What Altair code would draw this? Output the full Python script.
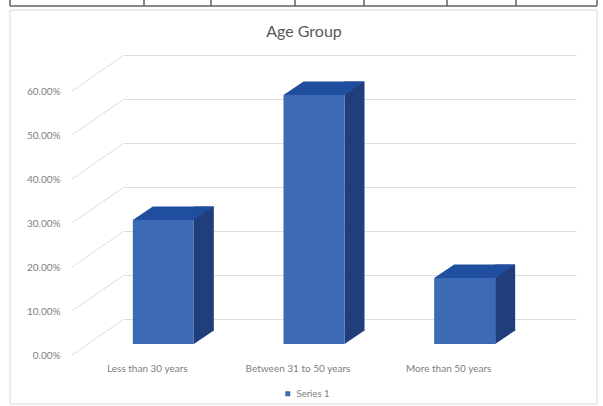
import altair as alt
import pandas as pd

# ---- data ----
categories = ["Less than 30 years", "Between 31 to 50 years", "More than 50 years"]
shares = [0.282, 0.566, 0.150]
series_names = ["Series 1", "Series 1", "Series 1"]
y_ticks = [0.0, 0.1, 0.2, 0.3, 0.4, 0.5, 0.6]

bars = pd.DataFrame({"group": categories, "share": shares, "series": series_names})
ticks = pd.DataFrame({"tick": y_ticks})

# ---- style ----
FRONT, TOP, SIDE = "#3D6AB5", "#1F4E9E", "#203F7A"
GRID, TEXT, TITLE = "#DDDDDD", "#808080", "#595959"
FONT = "Lato"
W, H = 452, 264
DX, DY = 52, 36          # depth of the 3D box (front plane -> back wall)
BX, BY = -36, 25         # bar front face offset from the back wall
BW = 61                  # bar width
SX, SY = 20, 13.5        # bar depth

y_scale = alt.Scale(domain=[0, 0.6], nice=False, zero=True)
x_scale = alt.Scale(paddingInner=0, paddingOuter=0)
x_axis = alt.Axis(labelAngle=0, labelOffset=-DX, labelPadding=44, ticks=False,
                  domain=False, labelFontSize=10, labelColor=TEXT, labelFont=FONT, title=None)
y_axis = alt.Axis(values=y_ticks, format=".2%", labelOffset=DY, labelPadding=64,
                  ticks=False, domain=False, grid=True, gridColor=GRID, gridWidth=1,
                  labelFontSize=10, labelColor=TEXT, labelFont=FONT, title=None)

x_enc = alt.X("group:N", sort=categories, title=None, scale=x_scale, axis=x_axis)

deco = alt.Chart(alt.InlineData(values=[{}]))
frame = deco.mark_rect(fillOpacity=0, stroke="#D9D9D9", strokeWidth=1).encode(
    x=alt.value(-114), x2=alt.value(473), y=alt.value(-45), y2=alt.value(349))
table_lines = [deco.mark_rule(color="#606060", strokeWidth=1.5).encode(
    x=alt.value(-114), x2=alt.value(473), y=alt.value(-49), y2=alt.value(-49))]
for xv in [10, 144, 211, 295, 364, 447, 516, 597]:
    table_lines.append(deco.mark_rule(color="#606060", strokeWidth=1.5).encode(
        x=alt.value(xv - 124), x2=alt.value(xv - 124), y=alt.value(-56), y2=alt.value(-49)))

diag = alt.Chart(ticks).mark_rule(color=GRID, strokeWidth=1, yOffset=DY, y2Offset=0).encode(
    x=alt.value(-DX), x2=alt.value(0),
    y=alt.Y("tick:Q", scale=y_scale, axis=y_axis, title=None), y2="tick:Q")

base = alt.Chart(bars)
y_share = alt.Y("share:Q", scale=y_scale, axis=y_axis, title=None)

side = base.mark_bar(width=SX, color=SIDE, xOffset=BX + BW / 2 + SX / 2,
                     yOffset=BY - SY, y2Offset=BY - SY).encode(
    x=x_enc, y=y_share, y2=alt.datum(0))

tri_path = (f"M {BW/2} {-SY - 1} L {BW/2 + SX} {-SY - 1} L {BW/2 + SX} {-SY} "
            f"L {BW/2} 0 Z")
bottom_tri = base.mark_point(shape=tri_path, size=4, filled=True, opacity=1, color=SIDE,
                             xOffset=BX, yOffset=BY).encode(
    x=x_enc, y=alt.datum(0, type="quantitative", scale=y_scale, axis=y_axis))

top_path = f"M {-BW/2} 0 L {BW/2} 0 L {BW/2 + SX} {-SY} L {-BW/2 + SX} {-SY} Z"
top_face = base.mark_point(shape=top_path, size=4, filled=True, opacity=1, color=TOP,
                           xOffset=BX, yOffset=BY).encode(
    x=x_enc, y=y_share)

front = base.mark_bar(width=BW, xOffset=BX, yOffset=BY, y2Offset=BY).encode(
    x=x_enc, y=y_share, y2=alt.datum(0),
    color=alt.Color("series:N", scale=alt.Scale(range=[FRONT]),
                    legend=alt.Legend(orient="none", legendX=159, legendY=334, title=None,
                                      symbolType="square", symbolSize=25, symbolStrokeWidth=0,
                                      labelFontSize=9.5, labelColor=TEXT, labelFont=FONT,
                                      padding=0)))

chart = alt.layer(frame, *table_lines, diag, side, bottom_tri, top_face, front).properties(
    width=W, height=H,
    title=alt.TitleParams("Age Group", fontSize=16, font=FONT, color=TITLE, fontWeight="normal",
                          anchor="middle", frame="group", dx=-46, offset=-42),
    autosize=alt.AutoSizeParams(type="none"),
    padding={"left": 124, "top": 55, "right": 27, "bottom": 87},
    background="white",
).configure_view(strokeWidth=0)

chart.save("out.html", embed_options={"renderer": "svg", "actions": False})
